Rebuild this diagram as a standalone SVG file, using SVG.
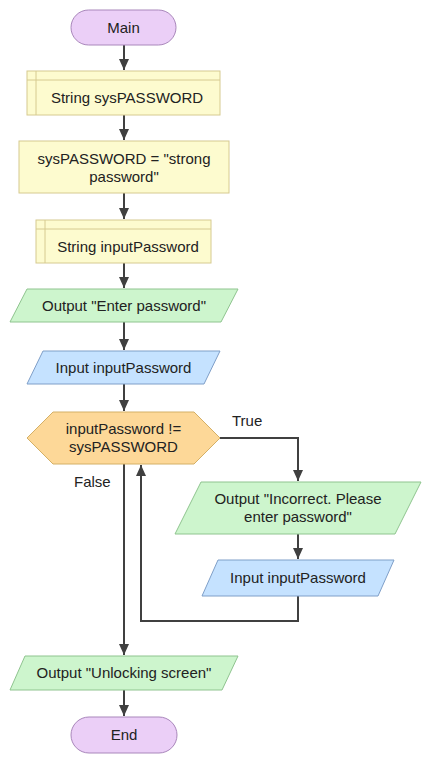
<svg xmlns="http://www.w3.org/2000/svg" width="429" height="764" viewBox="0 0 429 764">
<defs>
<marker id="ah" markerUnits="userSpaceOnUse" markerWidth="12" markerHeight="12" viewBox="0 0 12 12" refX="11" refY="6" orient="auto">
<path d="M0,1 L11,6 L0,11 Z" fill="#404040"/>
</marker>
<style>
text{font-family:"Liberation Sans",Arial,sans-serif;font-size:15px;fill:#222;text-anchor:middle}
.term{fill:#ebcff7;stroke:#a987bb;stroke-width:1}
.proc{fill:#fdfbcf;stroke:#d6ca90;stroke-width:1}
.out{fill:#cdf5cd;stroke:#8fc48f;stroke-width:1}
.inp{fill:#c5e2ff;stroke:#7f9fc8;stroke-width:1}
.dec{fill:#fdd898;stroke:#d4b066;stroke-width:1}
.edge{fill:none;stroke:#404040;stroke-width:2}
.lbl{text-anchor:start}
</style>
</defs>
<rect width="429" height="764" fill="#ffffff"/>
<g id="connectors">
<path class="edge" d="M124,45 V70" marker-end="url(#ah)"/>
<path class="edge" d="M124,115 V140" marker-end="url(#ah)"/>
<path class="edge" d="M124,193 V219" marker-end="url(#ah)"/>
<path class="edge" d="M124,263 V288" marker-end="url(#ah)"/>
<path class="edge" d="M124,322 V350" marker-end="url(#ah)"/>
<path class="edge" d="M124,384 V411" marker-end="url(#ah)"/>
<path class="edge" d="M124,464 V655" marker-end="url(#ah)"/>
<path class="edge" d="M124,690 V716" marker-end="url(#ah)"/>
<path class="edge" d="M220,438 H298 V481" marker-end="url(#ah)"/>
<path class="edge" d="M298,534 V559" marker-end="url(#ah)"/>
<path class="edge" d="M298,596 V621 H141 V465" marker-end="url(#ah)"/>
<text class="lbl" x="232" y="426">True</text>
<text class="lbl" x="74" y="487">False</text>
</g>
<g id="main">
<rect class="term" x="71" y="10" width="105" height="35" rx="17.5"/>
<text x="123.5" y="33">Main</text>
</g>
<g id="decl1">
<rect class="proc" x="27" y="71" width="193" height="44"/>
<path class="proc" d="M27,80 H220 M36,71 V115" fill="none"/>
<text x="127" y="103">String sysPASSWORD</text>
</g>
<g id="assign">
<rect class="proc" x="19" y="141" width="210" height="52"/>
<text x="124" y="164">sysPASSWORD = "strong</text>
<text x="124" y="182">password"</text>
</g>
<g id="decl2">
<rect class="proc" x="36" y="220" width="175" height="43"/>
<path class="proc" d="M36,229 H211 M45,220 V263" fill="none"/>
<text x="128" y="252">String inputPassword</text>
</g>
<g id="out1">
<polygon class="out" points="27,289 238,289 221,322 10,322"/>
<text x="124" y="311">Output "Enter password"</text>
</g>
<g id="in1">
<polygon class="inp" points="43,351 220,351 204,384 27,384"/>
<text x="123.5" y="373">Input inputPassword</text>
</g>
<g id="decision">
<polygon class="dec" points="27,438 53,412 194,412 220,438 194,464 53,464"/>
<text x="123.5" y="434">inputPassword !=</text>
<text x="123.5" y="452">sysPASSWORD</text>
</g>
<g id="out2">
<polygon class="out" points="201,482 421,482 395,534 175,534"/>
<text x="298" y="504">Output "Incorrect. Please</text>
<text x="298" y="522">enter password"</text>
</g>
<g id="in2">
<polygon class="inp" points="218,560 394,560 378,596 202,596"/>
<text x="298" y="583">Input inputPassword</text>
</g>
<g id="out3">
<polygon class="out" points="25,656 238,656 222,690 10,690"/>
<text x="124" y="678">Output "Unlocking screen"</text>
</g>
<g id="end">
<rect class="term" x="71" y="717" width="106" height="36" rx="18"/>
<text x="124" y="740">End</text>
</g>
</svg>
